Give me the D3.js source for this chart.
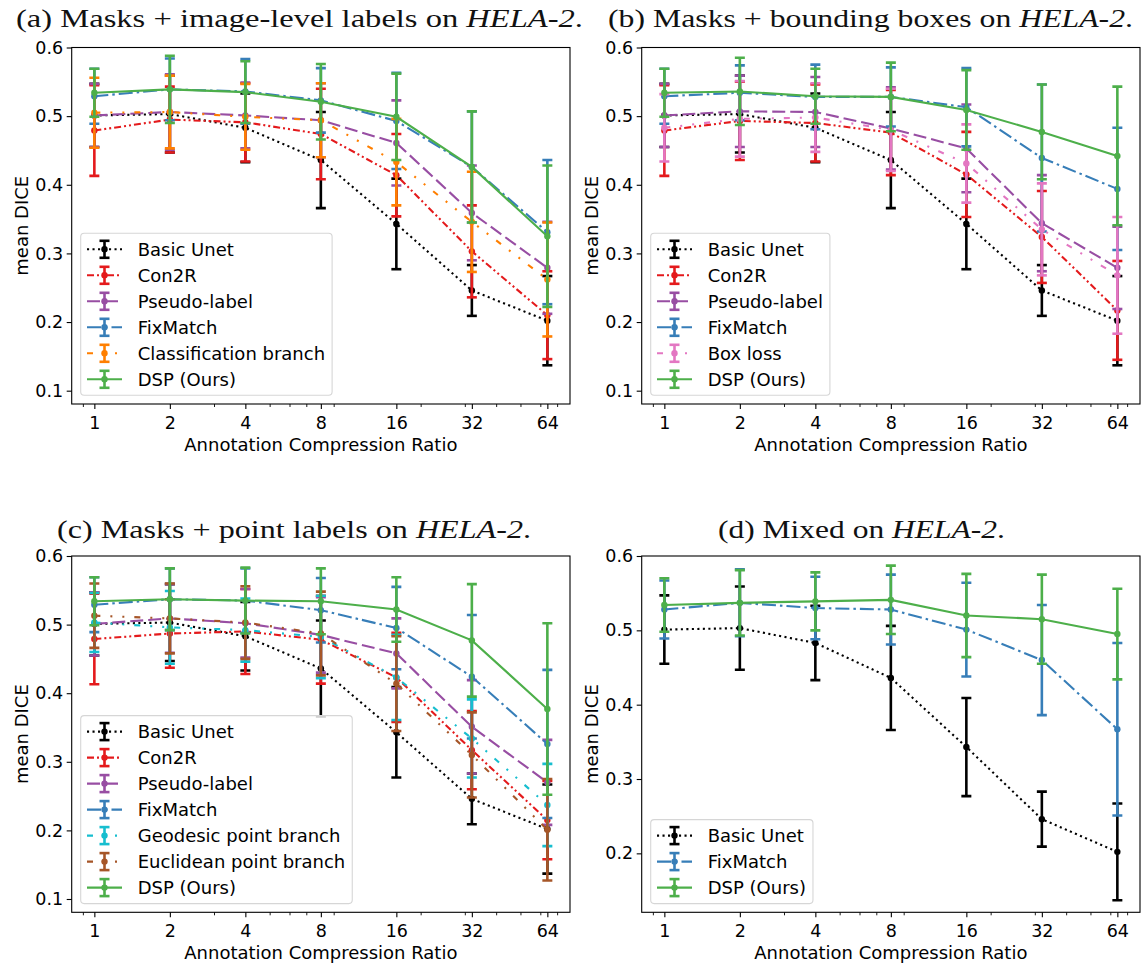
<!DOCTYPE html>
<html>
<head>
<meta charset="utf-8">
<script src="https://cdn.jsdelivr.net/npm/d3@7"></script>
<style>
  html, body { margin: 0; padding: 0; background: #fff; }
  svg { display: block; }
  .tick-label { font-family: "DejaVu Sans", sans-serif; font-size: 17.5px; fill: #000; }
  .axis-label, .legend-label { font-family: "DejaVu Sans", sans-serif; font-size: 18px; fill: #000; }
  .title { font-family: "Liberation Serif", "DejaVu Serif", serif; font-size: 26px; fill: #111; }
</style>
</head>
<body>
<svg id="chart" width="1141" height="964"></svg>
<script>
// Compression ratios on the x axis (log scale, base 2)
const ratios = [1, 2, 4, 8, 16, 32, 64];
const xTickLabels = ["1", "2", "4", "8", "16", "32", "64"];
const xMinorTicks = [0.9, 3, 5, 6, 7, 9, 20, 30, 40, 50, 60, 70];
const yTicksMain = [0.1, 0.2, 0.3, 0.4, 0.5, 0.6];
const yTicksMixed = [0.2, 0.3, 0.4, 0.5, 0.6];

// Baseline shared by all four settings
const unetMean = [0.501, 0.503, 0.483, 0.436, 0.343, 0.246, 0.202];
const unetErr  = [0.046, 0.056, 0.050, 0.070, 0.066, 0.037, 0.065];

// (a) masks + image-level labels
const aCon2rMean    = [0.479, 0.495, 0.491, 0.474, 0.414, 0.303, 0.210];
const aCon2rErr     = [0.066, 0.048, 0.057, 0.066, 0.060, 0.067, 0.064];
const aPseudoMean   = [0.501, 0.506, 0.501, 0.494, 0.461, 0.359, 0.279];
const aPseudoErr    = [0.046, 0.055, 0.048, 0.054, 0.062, 0.069, 0.067];
const aFixMean      = [0.529, 0.539, 0.536, 0.523, 0.493, 0.426, 0.331];
const aFixErr       = [0.040, 0.045, 0.047, 0.047, 0.070, 0.081, 0.105];
const aClassMean    = [0.505, 0.506, 0.499, 0.494, 0.433, 0.346, 0.262];
const aClassErr     = [0.051, 0.053, 0.048, 0.054, 0.063, 0.073, 0.083];
const aDspMean      = [0.534, 0.539, 0.535, 0.521, 0.499, 0.426, 0.325];
const aDspErr       = [0.035, 0.049, 0.045, 0.055, 0.063, 0.081, 0.103];

// (b) masks + bounding boxes
const bCon2rMean    = [0.479, 0.493, 0.490, 0.476, 0.415, 0.324, 0.217];
const bCon2rErr     = [0.066, 0.057, 0.056, 0.062, 0.062, 0.067, 0.072];
const bPseudoMean   = [0.501, 0.507, 0.506, 0.482, 0.453, 0.344, 0.279];
const bPseudoErr    = [0.046, 0.052, 0.051, 0.060, 0.064, 0.070, 0.060];
const bFixMean      = [0.529, 0.534, 0.528, 0.528, 0.513, 0.439, 0.394];
const bFixErr       = [0.040, 0.040, 0.047, 0.043, 0.057, 0.107, 0.089];
const bBoxMean      = [0.483, 0.496, 0.498, 0.480, 0.431, 0.335, 0.268];
const bBoxErr       = [0.049, 0.055, 0.050, 0.060, 0.057, 0.067, 0.085];
const bDspMean      = [0.534, 0.536, 0.529, 0.528, 0.509, 0.477, 0.442];
const bDspErr       = [0.035, 0.049, 0.040, 0.050, 0.058, 0.069, 0.101];

// (c) masks + point labels
const cCon2rMean    = [0.479, 0.487, 0.490, 0.478, 0.423, 0.317, 0.215];
const cCon2rErr     = [0.066, 0.050, 0.062, 0.064, 0.065, 0.057, 0.057];
const cPseudoMean   = [0.501, 0.509, 0.502, 0.485, 0.458, 0.351, 0.270];
const cPseudoErr    = [0.046, 0.050, 0.050, 0.055, 0.051, 0.068, 0.062];
const cFixMean      = [0.529, 0.537, 0.535, 0.521, 0.495, 0.424, 0.326];
const cFixErr       = [0.040, 0.045, 0.047, 0.047, 0.060, 0.090, 0.108];
const cGeoMean      = [0.503, 0.496, 0.492, 0.482, 0.423, 0.334, 0.237];
const cGeoErr       = [0.043, 0.053, 0.046, 0.060, 0.062, 0.057, 0.060];
const cEucMean      = [0.513, 0.509, 0.503, 0.487, 0.414, 0.310, 0.201];
const cEucErr       = [0.047, 0.051, 0.053, 0.061, 0.069, 0.062, 0.074];
const cDspMean      = [0.534, 0.537, 0.535, 0.534, 0.522, 0.477, 0.377];
const cDspErr       = [0.035, 0.045, 0.048, 0.048, 0.047, 0.082, 0.125];

// (d) mixed supervision
const dFixMean      = [0.528, 0.537, 0.530, 0.528, 0.501, 0.460, 0.367];
const dFixErr       = [0.039, 0.045, 0.042, 0.047, 0.063, 0.074, 0.116];
const dDspMean      = [0.534, 0.537, 0.539, 0.541, 0.520, 0.515, 0.495];
const dDspErr       = [0.036, 0.044, 0.039, 0.046, 0.056, 0.060, 0.061];

// Line styles per method
const LOOSE = "6,10,2,10,2,10";
const STYLE = {
  unet:   { color: "#000000", dash: "2.1,3.4" },
  con2r:  { color: "#e41a1c", dash: "7,3,2,3,2,3" },
  pseudo: { color: "#984ea3", dash: "13,5" },
  fix:    { color: "#377eb8", dash: "14,4,2.5,4" },
  class:  { color: "#ff7f00", dash: LOOSE },
  box:    { color: "#e377c2", dash: LOOSE },
  geo:    { color: "#17becf", dash: LOOSE },
  euc:    { color: "#a65628", dash: LOOSE },
  dsp:    { color: "#4daf4a", dash: null }
};

const mk = (name, style, mean, err) => ({ name, style: STYLE[style], mean, err });

const panels = [
  {
    title: ["(a) Masks + image-level labels on ", "HELA-2", "."], tx: 16, ty: 27, tw: 567,
    left: 71.7, right: 570, top: 47.5, bottom: 404, yDomain: [0.0806, 0.6], yTicks: yTicksMain,
    series: [
      mk("Basic Unet", "unet", unetMean, unetErr),
      mk("Con2R", "con2r", aCon2rMean, aCon2rErr),
      mk("Pseudo-label", "pseudo", aPseudoMean, aPseudoErr),
      mk("FixMatch", "fix", aFixMean, aFixErr),
      mk("Classification branch", "class", aClassMean, aClassErr),
      mk("DSP (Ours)", "dsp", aDspMean, aDspErr)
    ]
  },
  {
    title: ["(b) Masks + bounding boxes on ", "HELA-2", "."], tx: 608, ty: 27, tw: 525,
    left: 641.7, right: 1140, top: 47.5, bottom: 404, yDomain: [0.0806, 0.6], yTicks: yTicksMain,
    series: [
      mk("Basic Unet", "unet", unetMean, unetErr),
      mk("Con2R", "con2r", bCon2rMean, bCon2rErr),
      mk("Pseudo-label", "pseudo", bPseudoMean, bPseudoErr),
      mk("FixMatch", "fix", bFixMean, bFixErr),
      mk("Box loss", "box", bBoxMean, bBoxErr),
      mk("DSP (Ours)", "dsp", bDspMean, bDspErr)
    ]
  },
  {
    title: ["(c) Masks + point labels on ", "HELA-2", "."], tx: 57, ty: 538, tw: 474,
    left: 71.7, right: 570, top: 556, bottom: 912.3, yDomain: [0.0806, 0.6], yTicks: yTicksMain,
    series: [
      mk("Basic Unet", "unet", unetMean, unetErr),
      mk("Con2R", "con2r", cCon2rMean, cCon2rErr),
      mk("Pseudo-label", "pseudo", cPseudoMean, cPseudoErr),
      mk("FixMatch", "fix", cFixMean, cFixErr),
      mk("Geodesic point branch", "geo", cGeoMean, cGeoErr),
      mk("Euclidean point branch", "euc", cEucMean, cEucErr),
      mk("DSP (Ours)", "dsp", cDspMean, cDspErr)
    ]
  },
  {
    title: ["(d) Mixed on ", "HELA-2", "."], tx: 718, ty: 538, tw: 287,
    left: 641.7, right: 1140, top: 556, bottom: 912.3, yDomain: [0.1207, 0.6], yTicks: yTicksMixed,
    series: [
      mk("Basic Unet", "unet", unetMean, unetErr),
      mk("FixMatch", "fix", dFixMean, dFixErr),
      mk("DSP (Ours)", "dsp", dDspMean, dDspErr)
    ]
  }
];

const svg = d3.select("#chart");
const LINE_W = 2.1, ERR_W = 2.6, CAP_HALF = 5, MARK_R = 3.2;

function drawErrorSeries(g, s, x, y) {
  const line = d3.line().x((d, i) => x(ratios[i])).y(d => y(d));
  g.append("path")
    .datum(s.mean)
    .attr("d", line)
    .attr("fill", "none")
    .attr("stroke", s.style.color)
    .attr("stroke-width", LINE_W)
    .attr("stroke-dasharray", s.style.dash);
  const bars = g.append("g").attr("stroke", s.style.color).attr("stroke-width", ERR_W);
  s.mean.forEach((m, i) => {
    const cx = x(ratios[i]);
    const y0 = y(m - s.err[i]), y1 = y(m + s.err[i]);
    bars.append("line").attr("x1", cx).attr("x2", cx).attr("y1", y0).attr("y2", y1);
    bars.append("line").attr("x1", cx - CAP_HALF).attr("x2", cx + CAP_HALF).attr("y1", y0).attr("y2", y0);
    bars.append("line").attr("x1", cx - CAP_HALF).attr("x2", cx + CAP_HALF).attr("y1", y1).attr("y2", y1);
  });
  g.append("g").selectAll("circle").data(s.mean).join("circle")
    .attr("cx", (d, i) => x(ratios[i]))
    .attr("cy", d => y(d))
    .attr("r", MARK_R)
    .attr("fill", s.style.color);
}

function drawPanel(p) {
  const x = d3.scaleLog().base(2).domain([Math.pow(2, -0.3), Math.pow(2, 6.3)]).range([p.left, p.right]);
  const y = d3.scaleLinear().domain(p.yDomain).range([p.bottom, p.top]);
  const g = svg.append("g");

  // title with italic dataset name
  const t = g.append("text").attr("class", "title")
    .attr("x", p.tx).attr("y", p.ty)
    .attr("textLength", p.tw).attr("lengthAdjust", "spacingAndGlyphs");
  t.append("tspan").text(p.title[0]);
  t.append("tspan").attr("font-style", "italic").text(p.title[1]);
  t.append("tspan").text(p.title[2]);

  // plot area clipped to the frame
  const clipId = "clip" + Math.round(p.left) + "_" + Math.round(p.top);
  svg.append("clipPath").attr("id", clipId).append("rect")
    .attr("x", p.left).attr("y", p.top).attr("width", p.right - p.left).attr("height", p.bottom - p.top);
  const plot = g.append("g").attr("clip-path", `url(#${clipId})`);
  p.series.forEach(s => drawErrorSeries(plot, s, x, y));

  // frame
  g.append("rect").attr("x", p.left).attr("y", p.top)
    .attr("width", p.right - p.left).attr("height", p.bottom - p.top)
    .attr("fill", "none").attr("stroke", "#000").attr("stroke-width", 1.1);

  // x axis (major + minor ticks)
  const xAxis = d3.axisBottom(x).tickValues(ratios).tickFormat((d, i) => xTickLabels[i])
    .tickSizeInner(5).tickSizeOuter(0).tickPadding(3.5);
  const xg = g.append("g").attr("transform", `translate(0,${p.bottom})`).call(xAxis);
  xg.select(".domain").remove();
  xg.selectAll("line").attr("stroke", "#000").attr("stroke-width", 1.1);
  xg.selectAll("text").attr("class", "tick-label").attr("font-size", null).attr("font-family", null).attr("dy", "0.95em");
  const xm = d3.axisBottom(x).tickValues(xMinorTicks.filter(v => x(v) >= p.left && x(v) <= p.right))
    .tickFormat("").tickSizeInner(3).tickSizeOuter(0);
  const xmg = g.append("g").attr("transform", `translate(0,${p.bottom})`).call(xm);
  xmg.select(".domain").remove();
  xmg.selectAll("line").attr("stroke", "#000").attr("stroke-width", 0.9);

  g.append("text").attr("class", "axis-label")
    .attr("x", (p.left + p.right) / 2).attr("y", p.bottom + 47)
    .attr("text-anchor", "middle").text("Annotation Compression Ratio");

  // y axis
  const yAxis = d3.axisLeft(y).tickValues(p.yTicks).tickFormat(d3.format(".1f"))
    .tickSizeInner(5).tickSizeOuter(0).tickPadding(3.5);
  const yg = g.append("g").attr("transform", `translate(${p.left},0)`).call(yAxis);
  yg.select(".domain").remove();
  yg.selectAll("line").attr("stroke", "#000").attr("stroke-width", 1.1);
  yg.selectAll("text").attr("class", "tick-label").attr("font-size", null).attr("font-family", null);

  g.append("text").attr("class", "axis-label")
    .attr("transform", `translate(${p.left - 44},${(p.top + p.bottom) / 2}) rotate(-90)`)
    .attr("text-anchor", "middle").text("mean DICE");

  // legend (lower left)
  const n = p.series.length;
  const rowH = 26;
  const lh = n * rowH + 6;
  const lx = p.left + 9, ly = p.bottom - 8.7 - lh;
  const lg = g.append("g");
  const box = lg.append("rect").attr("x", lx).attr("y", ly).attr("height", lh)
    .attr("rx", 3.5).attr("ry", 3.5)
    .attr("fill", "#fff").attr("fill-opacity", 0.8)
    .attr("stroke", "#d6d6d6").attr("stroke-width", 1.1);
  let maxW = 0;
  p.series.forEach((s, i) => {
    const cy = ly + 16 + i * rowH;
    const hx0 = lx + 6.3, hx1 = lx + 41.3, hc = (hx0 + hx1) / 2;
    lg.append("line").attr("x1", hx0).attr("x2", hx1).attr("y1", cy).attr("y2", cy)
      .attr("stroke", s.style.color).attr("stroke-width", LINE_W)
      .attr("stroke-dasharray", s.style.dash);
    const eb = lg.append("g").attr("stroke", s.style.color).attr("stroke-width", ERR_W);
    eb.append("line").attr("x1", hc).attr("x2", hc).attr("y1", cy - 8.5).attr("y2", cy + 8.5);
    eb.append("line").attr("x1", hc - CAP_HALF).attr("x2", hc + CAP_HALF).attr("y1", cy - 8.5).attr("y2", cy - 8.5);
    eb.append("line").attr("x1", hc - CAP_HALF).attr("x2", hc + CAP_HALF).attr("y1", cy + 8.5).attr("y2", cy + 8.5);
    lg.append("circle").attr("cx", hc).attr("cy", cy).attr("r", MARK_R).attr("fill", s.style.color);
    const tx = lg.append("text").attr("class", "legend-label")
      .attr("x", lx + 57).attr("y", cy).attr("dy", "0.36em").text(s.name);
    maxW = Math.max(maxW, tx.node().getComputedTextLength());
  });
  box.attr("width", 57 + maxW + 7);
}

panels.forEach(drawPanel);
</script>
</body>
</html>
